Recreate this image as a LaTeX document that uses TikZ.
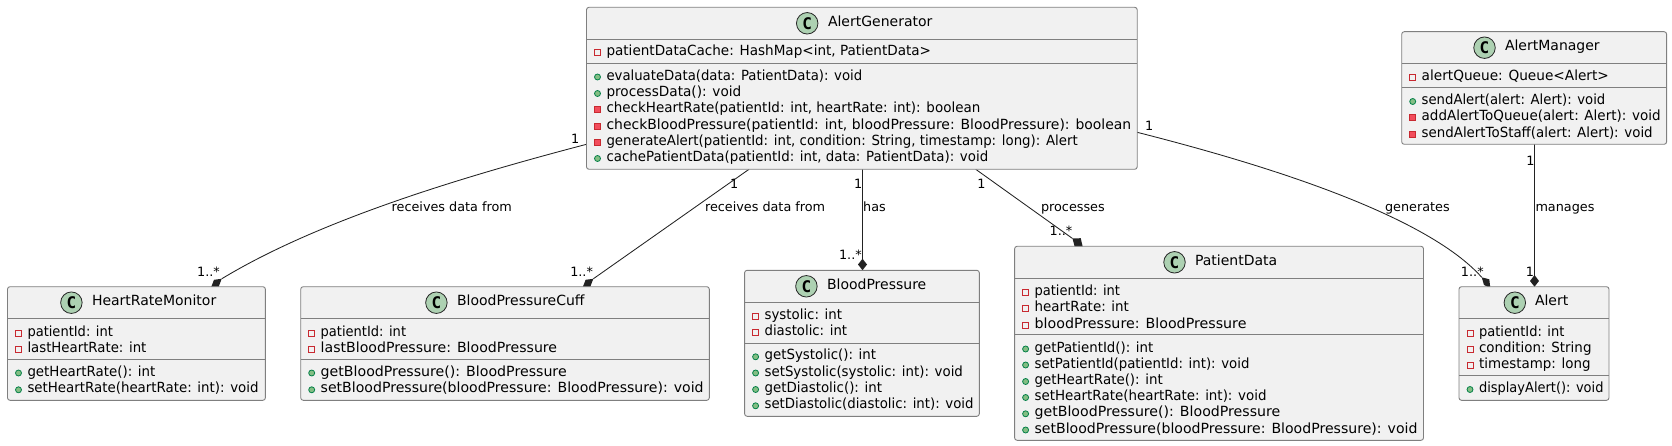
\documentclass[tikz,border=0pt]{standalone}
\usepackage{fontspec}
\setmainfont{DejaVu Sans}
\newfontfamily\badgefont{DejaVu Sans Mono}
\usetikzlibrary{backgrounds,calc}
\definecolor{boxfill}{HTML}{F1F1F1}
\definecolor{boxline}{HTML}{7F7F7F}
\definecolor{edgecol}{HTML}{222222}
\definecolor{circfill}{HTML}{ADD1B2}
\definecolor{privline}{HTML}{C82930}
\definecolor{privfill}{HTML}{F24D5C}
\definecolor{publine}{HTML}{038048}
\definecolor{pubfill}{HTML}{84BE84}
\newcounter{txtno}
\tikzset{
  classbox/.style={draw=boxline,fill=boxfill,line width=0.9pt,rounded corners=2.5pt,inner sep=0pt,outer sep=0pt,anchor=north west},
  sepline/.style={draw=boxline,line width=0.9pt},
  edge/.style={draw=edgecol,line width=0.85pt},
  compdiamond/.style={fill=edgecol,draw=none},
  member/.style={inner sep=0pt,outer sep=0pt,anchor=mid west,font=\fontsize{14}{16}\selectfont,text=black},
  titletext/.style={inner sep=0pt,outer sep=0pt,anchor=mid west,font=\fontsize{14}{16}\selectfont,text=black},
  elabel/.style={inner sep=0pt,outer sep=0pt,font=\fontsize{12.8}{15}\selectfont,text=black},
  badge/.style={circle,draw=black!85,line width=0.8pt,fill=circfill,minimum size=21.5pt,inner sep=0pt,font=\fontsize{16}{16}\selectfont\badgefont\bfseries},
  privfield/.style={draw=privline,fill=none,line width=0.9pt},
  privmeth/.style={draw=privline,fill=privfill,line width=0.9pt},
  pubmeth/.style={draw=publine,fill=pubfill,line width=0.8pt}
}
% \cls{id}{left}{top}{right}{bottom}{title}{circle x}{title x}{header y}
\newcommand{\cls}[9]{%
  \node[classbox,minimum width={#4pt-#2pt},minimum height={#5pt-#3pt}] (#1) at (#2,#3) {};
  \node[badge] (#1c) at (#7,#3+16) {C};
  \node[titletext] (#1t) at (#8,#3+16) {#6};
  \draw[sepline] (#1.west |- 0,#9) -- (#1.east |- 0,#9);
}
% member lines: {left}{y}{width}{text}
\newcommand{\memtext}[4]{\node[member] (m\arabic{txtno}) at (#1+20,#2+1.8) {\resizebox{#3pt}{\height}{#4}};}
\newcommand{\fieldm}[4]{\stepcounter{txtno}%
  \draw[privfield] (#1+8,#2-1.5) rectangle (#1+14,#2+4.5);
  \memtext{#1}{#2}{#3}{#4}}
\newcommand{\privm}[4]{\stepcounter{txtno}%
  \draw[privmeth] (#1+8,#2-1.5) rectangle (#1+14,#2+4.5);
  \memtext{#1}{#2}{#3}{#4}}
\newcommand{\pubm}[4]{\stepcounter{txtno}%
  \draw[pubmeth] (#1+11,#2+1.5) circle (3);
  \memtext{#1}{#2}{#3}{#4}}
\newcommand{\elab}[3]{\stepcounter{txtno}%
  \node[elabel] (l\arabic{txtno}) at (#1,#2) {#3};}
\newcommand{\elabw}[3]{\stepcounter{txtno}%
  \node[elabel,anchor=mid west] (l\arabic{txtno}) at (#1,#2+1.5) {#3};}
\begin{document}
\begin{tikzpicture}[x=1pt,y=-1pt]
\useasboundingbox (0,0) rectangle (1672,446);
% AlertGenerator
\cls{ag}{586.5}{7.3}{1137.2}{169.3}{AlertGenerator}{807.2}{828}{39.3}
\draw[sepline] (ag.west |- 0,63.3) -- (ag.east |- 0,63.3);
\fieldm{586.5}{51}{324.5}{patientDataCache: HashMap<int, PatientData>}
\pubm{586.5}{75.5}{255.7}{evaluateData(data: PatientData): void}
\pubm{586.5}{92}{134.8}{processData(): void}
\privm{586.5}{108.3}{373.8}{checkHeartRate(patientId: int, heartRate: int): boolean}
\privm{586.5}{124.5}{524.7}{checkBloodPressure(patientId: int, bloodPressure: BloodPressure): boolean}
\privm{586.5}{140.8}{471.2}{generateAlert(patientId: int, condition: String, timestamp: long): Alert}
\pubm{586.5}{157}{381.7}{cachePatientData(patientId: int, data: PatientData): void}
% AlertManager
\cls{am}{1401.7}{31.7}{1666.6}{144.3}{AlertManager}{1484.5}{1505}{63.3}
\draw[sepline] (am.west |- 0,87.3) -- (am.east |- 0,87.3);
\fieldm{1401.7}{75.5}{187.2}{alertQueue: Queue<Alert>}
\pubm{1401.7}{100}{183.6}{sendAlert(alert: Alert): void}
\privm{1401.7}{116.3}{239}{addAlertToQueue(alert: Alert): void}
\privm{1401.7}{132.5}{231}{sendAlertToStaff(alert: Alert): void}
% HeartRateMonitor
\cls{hr}{7.5}{286.7}{265.4}{400.3}{HeartRateMonitor}{71.4}{92}{318.7}
\draw[sepline] (hr.west |- 0,359.3) -- (hr.east |- 0,359.3);
\fieldm{7.5}{331.5}{85.4}{patientId: int}
\fieldm{7.5}{347.5}{118.9}{lastHeartRate: int}
\pubm{7.5}{371.5}{127.9}{getHeartRate(): int}
\pubm{7.5}{388.3}{231.1}{setHeartRate(heartRate: int): void}
% BloodPressureCuff
\cls{bc}{300.7}{286.7}{709.3}{400.3}{BloodPressureCuff}{436.4}{457}{318.7}
\draw[sepline] (bc.west |- 0,359.3) -- (bc.east |- 0,359.3);
\fieldm{300.7}{331.5}{85.4}{patientId: int}
\fieldm{300.7}{347.5}{236.4}{lastBloodPressure: BloodPressure}
\pubm{300.7}{371.5}{246}{getBloodPressure(): BloodPressure}
\pubm{300.7}{388.3}{382.9}{setBloodPressure(bloodPressure: BloodPressure): void}
% BloodPressure
\cls{bp}{744.6}{270.3}{979.3}{416.3}{BloodPressure}{806.4}{827}{302.3}
\draw[sepline] (bp.west |- 0,343.3) -- (bp.east |- 0,343.3);
\fieldm{744.6}{315.3}{77.5}{systolic: int}
\fieldm{744.6}{331.3}{82.5}{diastolic: int}
\pubm{744.6}{355.3}{111.5}{getSystolic(): int}
\pubm{744.6}{371.5}{198.3}{setSystolic(systolic: int): void}
\pubm{744.6}{388}{117.5}{getDiastolic(): int}
\pubm{744.6}{404.3}{209}{setDiastolic(diastolic: int): void}
% PatientData
\cls{pd}{1014.6}{246.3}{1423.5}{440.3}{PatientData}{1174.5}{1195}{278.3}
\draw[sepline] (pd.west |- 0,334.7) -- (pd.east |- 0,334.7);
\fieldm{1014.6}{291}{85.4}{patientId: int}
\fieldm{1014.6}{307}{94.4}{heartRate: int}
\fieldm{1014.6}{323.5}{211.9}{bloodPressure: BloodPressure}
\pubm{1014.6}{347.5}{118.8}{getPatientId(): int}
\pubm{1014.6}{363.5}{214.9}{setPatientId(patientId: int): void}
\pubm{1014.6}{380}{128.3}{getHeartRate(): int}
\pubm{1014.6}{396}{232}{setHeartRate(heartRate: int): void}
\pubm{1014.6}{412.3}{245.7}{getBloodPressure(): BloodPressure}
\pubm{1014.6}{428.5}{382.9}{setBloodPressure(bloodPressure: BloodPressure): void}
% Alert
\cls{al}{1459}{286.7}{1609}{400.3}{Alert}{1514.8}{1535}{318.7}
\draw[sepline] (al.west |- 0,375.7) -- (al.east |- 0,375.7);
\fieldm{1459}{331.5}{85.4}{patientId: int}
\fieldm{1459}{347.5}{112.5}{condition: String}
\fieldm{1459}{363.7}{111.6}{timestamp: long}
\pubm{1459}{388}{124.5}{displayAlert(): void}
% Connector end points on the receiving classes
\coordinate (e1) at (221.7,278.8);
\coordinate (e2) at (593.3,278.8);
\coordinate (e3) at (bp.north -| 862.5,0);
\coordinate (e4) at (1072.5,238.5);
\coordinate (e5) at (1481.7,277.3);
\coordinate (e6) at (al.north -| 1534.5,0);
% Edge labels
\elab{575.3}{139}{1}\elab{208.5}{271.7}{1..*}\elabw{391.7}{207.5}{receives data from}
\elab{734.3}{184.3}{1}\elab{581.6}{271.7}{1..*}\elabw{705}{207.5}{receives data from}
\elab{858.2}{184.3}{1}\elab{850.4}{255}{1..*}\elabw{863.2}{207.5}{has}
\elab{981.4}{184.3}{1}\elab{1061}{230.7}{1..*}\elabw{1041}{207.5}{processes}
\elab{1149.3}{126}{1}\elab{1472.3}{271.7}{1..*}\elabw{1385}{207.5}{generates}
\elab{1530.5}{160.7}{1}\elab{1530}{271.7}{1}\elabw{1535.5}{207.5}{manages}
\begin{pgfonlayer}{background}
  % connectors, below the class boxes
  \draw[edge] ([yshift=-137pt]ag.north west) .. controls (456.7,178.3) and (316.7,221.3) .. (e1);
  \fill[compdiamond] (e1) -- (214,279.8) -- (210.8,288) -- (218.2,288) -- cycle;
  \draw[edge] ([xshift=162.5pt]ag.south west) -- (e2);
  \fill[compdiamond] (e2) -- (585.6,279.8) -- (582.4,288) -- (589.8,288) -- cycle;
  \draw[edge] (ag.south -| e3) -- (e3);
  \fill[compdiamond] (862.5,258.7) -- (867,264.5) -- (862.5,270.3) -- (858,264.5) -- cycle;
  \draw[edge] ([xshift=389.2pt]ag.south west) -- (e4);
  \fill[compdiamond] (e4) -- (1080.7,238.2) -- (1083,248) -- (1075,248) -- cycle;
  \draw[edge] ([yshift=-125pt]ag.north east) .. controls (1230,156) and (1420,208) .. (e5);
  \fill[compdiamond] (e5) -- (1489.3,279.3) -- (1490.3,288) -- (1484,285) -- cycle;
  \draw[edge] (am.south -| e6) -- (e6);
  \fill[compdiamond] (1534.5,275) -- (1539,281) -- (1534.5,286.7) -- (1530,281) -- cycle;
\end{pgfonlayer}
\end{tikzpicture}
\end{document}
